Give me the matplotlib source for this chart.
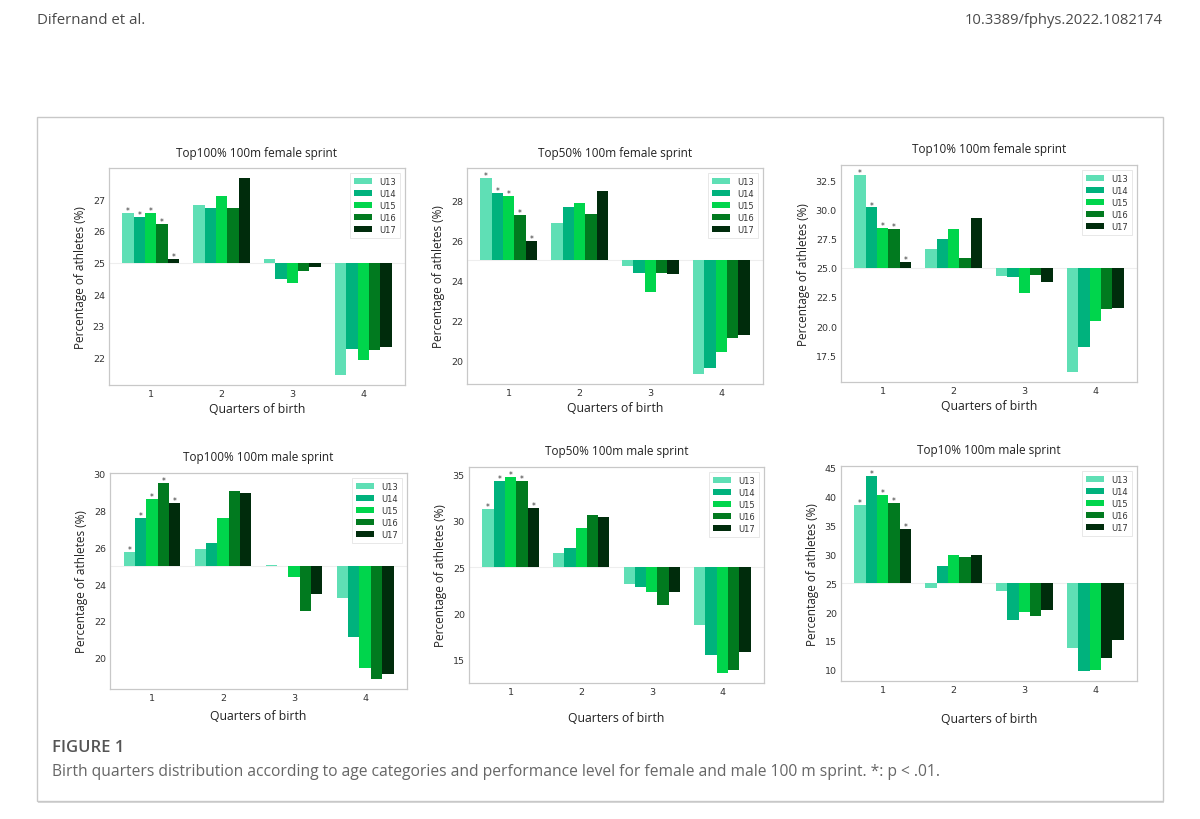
import numpy as np
import matplotlib.pyplot as plt
from matplotlib.patches import Rectangle
from matplotlib.ticker import MultipleLocator

# ------------------------------- DATA ---------------------------------------
quarters = [1, 2, 3, 4]
ages = ["U13", "U14", "U15", "U16", "U17"]
age_colors = ["#5fdfb5", "#00b27d", "#00d54c", "#017a1f", "#002c0c"]

titles = [
    "Top100% 100m female sprint", "Top50% 100m female sprint", "Top10% 100m female sprint",
    "Top100% 100m male sprint", "Top50% 100m male sprint", "Top10% 100m male sprint",
]

# rows = age category (U13..U17), columns = birth quarter 1..4  (values in %)
top100_female = [
    [26.55, 26.81, 25.12, 21.45],
    [26.45, 26.72, 24.47, 22.28],
    [26.57, 27.10, 24.34, 21.93],
    [26.23, 26.72, 24.74, 22.25],
    [25.10, 27.67, 24.86, 22.33],
]
top50_female = [
    [29.12, 26.87, 24.73, 19.33],
    [28.37, 27.68, 24.35, 19.65],
    [28.22, 27.88, 23.45, 20.45],
    [27.28, 27.33, 24.35, 21.12],
    [25.95, 28.45, 24.30, 21.30],
]
top10_female = [
    [33.00, 26.65, 24.34, 16.04],
    [30.20, 27.45, 24.25, 18.20],
    [28.40, 28.35, 22.86, 20.46],
    [28.35, 25.85, 24.42, 21.47],
    [25.55, 29.28, 23.76, 21.53],
]
top100_male = [
    [25.74, 25.90, 25.05, 23.22],
    [27.57, 26.23, 25.00, 21.12],
    [28.60, 27.57, 24.37, 19.44],
    [29.49, 29.06, 22.54, 18.84],
    [28.42, 28.95, 23.48, 19.13],
]
top50_male = [
    [31.26, 26.55, 23.17, 18.81],
    [34.35, 27.09, 22.88, 15.50],
    [34.75, 29.20, 22.30, 13.56],
    [34.35, 30.68, 20.97, 13.88],
    [31.37, 30.36, 22.30, 15.83],
]
top10_male = [
    [38.60, 24.19, 23.68, 13.71],
    [43.60, 28.05, 18.66, 9.74],
    [40.20, 29.84, 19.99, 9.91],
    [38.94, 29.60, 19.35, 11.98],
    [34.45, 29.95, 20.39, 15.15],
]
panels = [top100_female, top50_female, top10_female,
          top100_male, top50_male, top10_male]
ytick_steps = [1, 2, 2.5, 2, 5, 5]
signif_quarter = 1           # asterisks drawn over every Q1 bar
# in the published figure the U16/Q4 bar of the last panel is printed in the U17 colour
odd_bars = {(5, 3, 3): age_colors[4]}

# ------------------------------- LAYOUT -------------------------------------
W, H = 1200, 820
# axes boxes in pixels: left, right, top, bottom
boxes = [
    (109, 405, 169, 386), (467, 763, 169, 385), (841, 1137, 166, 383),
    (110, 407, 474, 690), (469, 764, 468, 684), (841, 1137, 467, 682),
]
xlabel_pads = [3, 3, 3, 5, 11, 13]

plt.rcParams["font.family"] = ["DejaVu Sans"]
fig = plt.figure(figsize=(W / 100, H / 100), dpi=100)
fig.patch.set_facecolor("white")

# page header
fig.text(37 / W, 1 - 20 / H, "Difernand et al.", ha="left", va="center",
         fontsize=10.8, color="#4a4a4a", family="Open Sans")
fig.text(1163 / W, 1 - 20 / H, "10.3389/fphys.2022.1082174", ha="right", va="center",
         fontsize=10.6, color="#4a4a4a", family="Open Sans")

# figure frame with a light shadow (kept behind the axes)
fig.patches.append(Rectangle((38 / W, 1 - 804 / H), 1126 / W, 684 / H,
                             transform=fig.transFigure, facecolor="#d9d9d9",
                             edgecolor="none", zorder=-3))
fig.patches.append(Rectangle((37 / W, 1 - 802 / H), 1126 / W, 684 / H,
                             transform=fig.transFigure, facecolor="white",
                             edgecolor="#c8c8c8", lw=1.0, zorder=-2))

width = 0.16
for k, (vals, box) in enumerate(zip(panels, boxes)):
    l, r, t, b = box
    ax = fig.add_axes([l / W, 1 - b / H, (r - l) / W, (b - t) / H])
    vals = np.array(vals)
    for i, age in enumerate(ages):
        xs = np.array(quarters) + (i - 2) * width
        cols = [odd_bars.get((k, i, j), age_colors[i]) for j in range(len(quarters))]
        ax.bar(xs, vals[i] - 25, width=width, bottom=25, color=cols,
               edgecolor="none", label=age, zorder=2)
        j = quarters.index(signif_quarter)
        ax.annotate("*", (xs[j], vals[i][j]), xytext=(0, -1.5),
                    textcoords="offset points", ha="center", va="bottom",
                    fontsize=5.5, color="#333333", zorder=3)
    ax.axhline(25, color="#eeeeee", lw=0.8, zorder=1)
    ax.yaxis.set_major_locator(MultipleLocator(ytick_steps[k]))
    ax.set_xticks(quarters)
    ax.tick_params(length=0, labelsize=6.8, labelcolor="#333333", pad=3)
    for s in ax.spines.values():
        s.set_color("#c8c8c8")
        s.set_linewidth(0.9)
    ax.set_title(titles[k], fontsize=8.5, family="Open Sans", color="#222222", pad=9)
    ax.set_xlabel("Quarters of birth", fontsize=8.8, family="Open Sans",
                  color="#222222", labelpad=xlabel_pads[k])
    ax.set_ylabel("Percentage of athletes (%)", fontsize=8.5, family="Open Sans",
                  color="#222222", labelpad=4)
    leg = ax.legend(loc="upper right", fontsize=6, frameon=True, fancybox=False,
                    handlelength=2.2, handleheight=0.8, labelspacing=0.35,
                    borderpad=0.5, handletextpad=0.8, borderaxespad=0.6)
    leg.get_frame().set_edgecolor("#dddddd")
    leg.get_frame().set_linewidth(0.6)
    for txt in leg.get_texts():
        txt.set_color("#333333")

# caption
fig.text(52 / W, 1 - 748 / H, "FIGURE 1", ha="left", va="center",
         fontsize=12, color="#555555", family="Open Sans", weight="semibold")
fig.text(52 / W, 1 - 772 / H,
         "Birth quarters distribution according to age categories and performance level "
         "for female and male 100 m sprint. *: p < .01.",
         ha="left", va="center", fontsize=11.25, color="#666666", family="Open Sans")

fig.savefig("out.png", dpi=100)
